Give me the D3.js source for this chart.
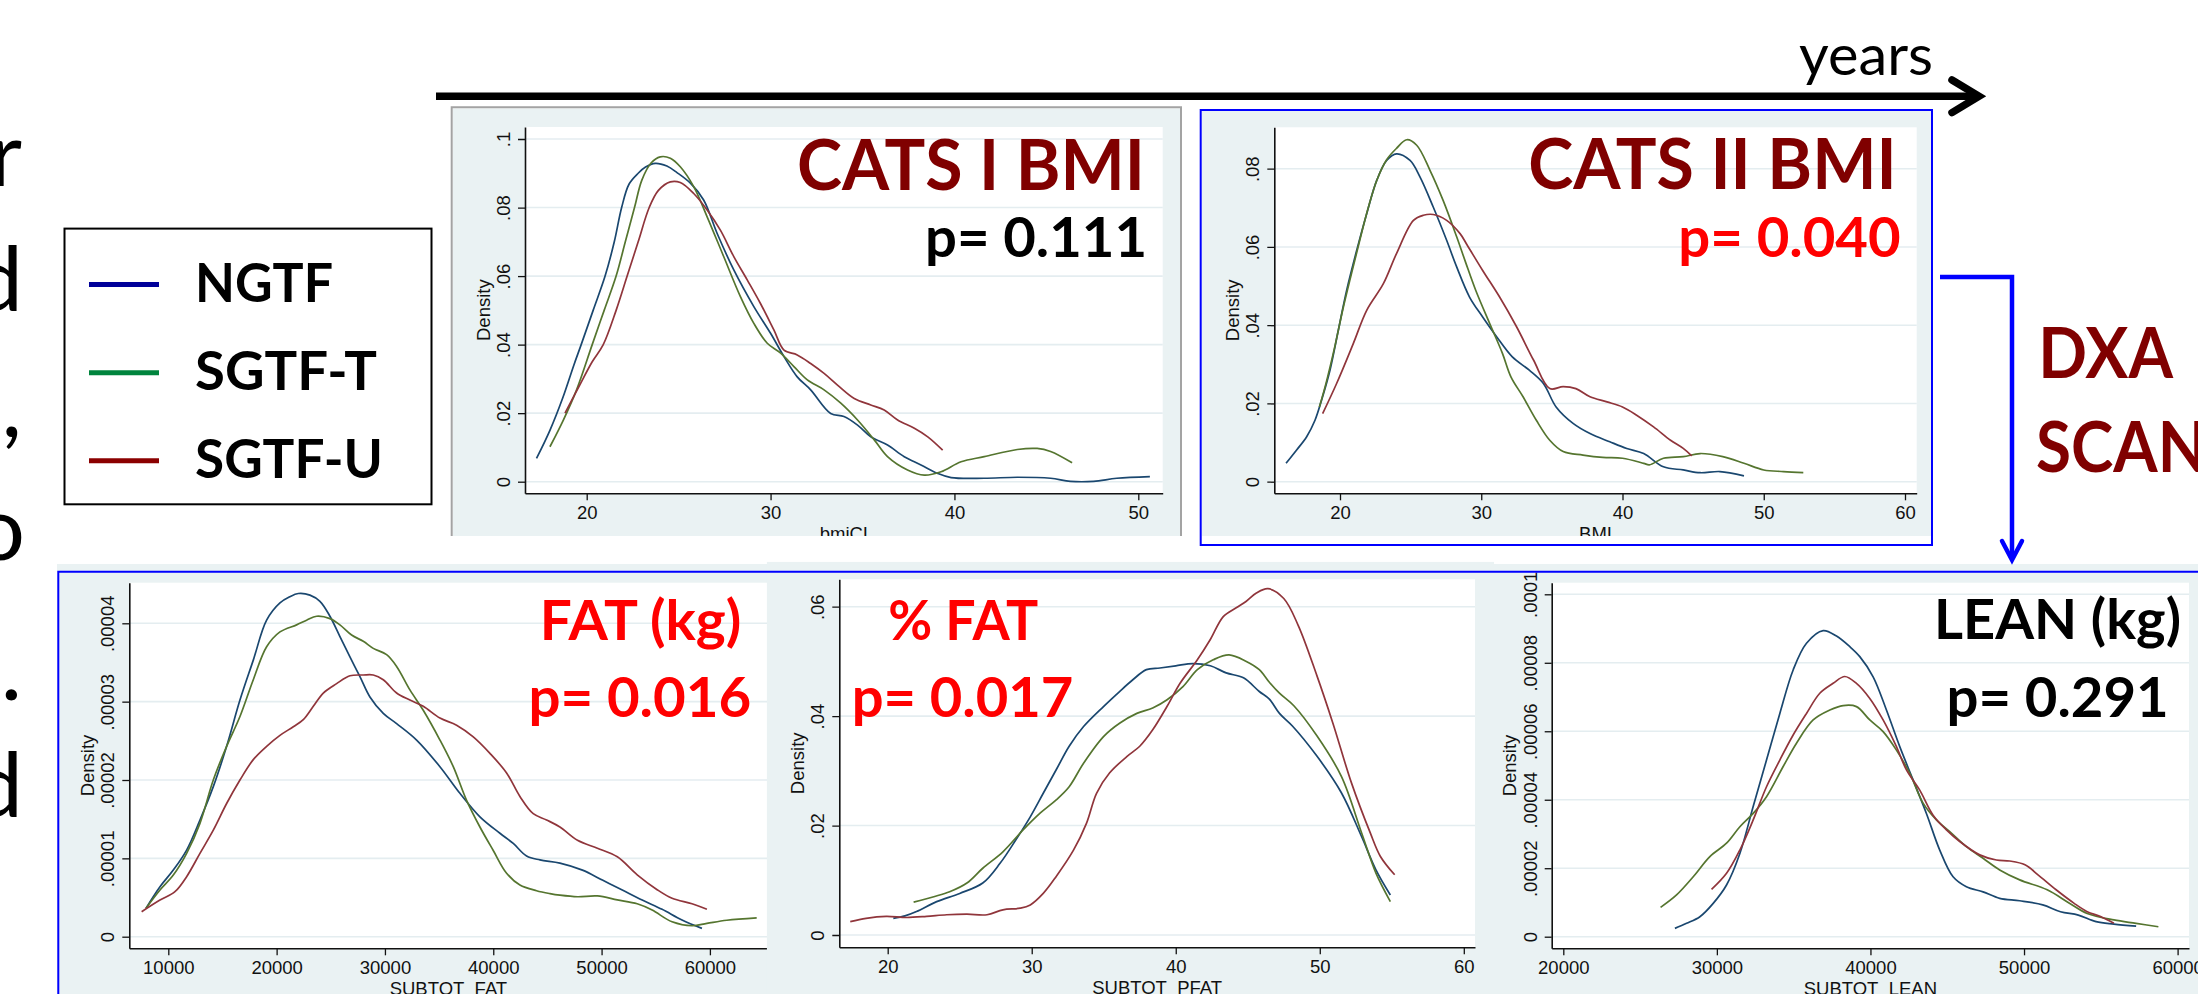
<!DOCTYPE html>
<html>
<head>
<meta charset="utf-8">
<script src="https://cdn.jsdelivr.net/npm/d3@7"></script>
<style>
body { margin: 0; background: #fff; overflow: hidden; }
svg { display: block; }
</style>
</head>
<body>
<script>
// groups and colours
var groups = ["NGTF", "SGTF-T", "SGTF-U"];
var curveColors = ["#1a476f", "#55752f", "#90353b"];
var legendColors = ["#000099", "#00843d", "#8b0000"];

// CATS I BMI density curves  [bmi, density]
var bmi1Ngtf = [[17.27,.0068],[18.0,.0150],[18.7,.0245],[19.3,.0340],[19.7,.0400],[20.35,.0500],[21.0,.0600],[21.5,.0700],[21.9,.0800],[22.3,.0868],[22.8,.0900],[23.2,.0918],[23.73,.0929],[24.36,.0921],[24.91,.0902],[25.64,.0871],[26.36,.0822],[27.09,.0725],[28.0,.0618],[29.09,.0511],[30.0,.0433],[30.73,.0365],[31.45,.0306],[32.18,.0268],[33.27,.0199],[33.99,.0190],[34.73,.0165],[35.45,.0131],[36.36,.0107],[37.27,.0073],[38.18,.0049],[39.09,.0024],[39.82,.0012],[41.62,.0010],[43.42,.0013],[45.23,.0010],[46.31,.0001],[47.57,.0001],[48.83,.0010],[50.63,.0015]];
var bmi1Sgtft = [[18.0,.0102],[18.73,.0180],[19.45,.0268],[20.3,.0400],[20.95,.0500],[21.6,.0600],[22.1,.0700],[22.6,.0800],[23.0,.0880],[23.5,.0930],[24.0,.0948],[24.55,.0944],[25.09,.0919],[25.82,.0861],[26.55,.0773],[27.45,.0657],[28.36,.0540],[29.09,.0462],[29.82,.0404],[30.55,.0375],[31.27,.0336],[32.0,.0297],[32.91,.0268],[33.82,.0229],[34.73,.0180],[35.64,.0122],[36.36,.0073],[37.45,.0034],[38.36,.0019],[39.27,.0029],[40.36,.0058],[41.62,.0073],[43.42,.0094],[44.5,.0097],[45.23,.0088],[46.4,.0055]];
var bmi1Sgtfu = [[18.82,.0200],[19.6,.0280],[20.3,.0350],[20.9,.0400],[21.6,.0500],[22.2,.0600],[22.8,.0700],[23.4,.0800],[23.9,.0850],[24.55,.0875],[25.09,.0873],[25.82,.0841],[26.55,.0793],[27.27,.0734],[28.0,.0657],[28.73,.0589],[29.45,.0520],[30.18,.0443],[30.73,.0384],[31.45,.0370],[32.18,.0345],[32.91,.0316],[33.64,.0282],[34.55,.0243],[35.45,.0224],[36.18,.0209],[36.91,.0180],[37.82,.0156],[38.55,.0131],[39.36,.0092]];

// CATS II BMI
var bmi2Ngtf = [[16.18,.0047],[16.93,.0081],[17.64,.0115],[18.23,.0157],[18.7,.0209],[19.29,.0285],[19.88,.0387],[20.47,.0489],[21.18,.0591],[21.89,.0685],[22.6,.0770],[23.3,.0821],[24.0,.0838],[24.96,.0821],[25.66,.0779],[26.6,.0702],[27.55,.0617],[28.26,.0549],[29.17,.0472],[30.1,.0421],[31.1,.0370],[32.2,.0319],[33.4,.0285],[34.4,.0251],[35.3,.0191],[36.5,.0149],[37.7,.0123],[39.1,.0102],[40.3,.0085],[41.5,.0072],[42.9,.0038],[44.3,.0030],[45.5,.0023],[46.9,.0026],[48.6,.0015]];
var bmi2Sgtft = [[18.54,.0191],[19.0,.0250],[19.6,.0340],[20.2,.0440],[20.8,.0530],[21.4,.0617],[22.0,.0700],[22.6,.0770],[23.3,.0823],[24.0,.0852],[24.72,.0874],[25.43,.0860],[26.37,.0796],[27.3,.0719],[28.26,.0626],[28.9,.0560],[29.6,.0490],[30.6,.0404],[31.5,.0328],[32.1,.0268],[32.96,.0217],[33.9,.0157],[34.85,.0106],[35.8,.0077],[37.2,.0068],[38.6,.0062],[40.0,.0060],[41.5,.0047],[41.9,.0043],[42.9,.0060],[44.3,.0064],[45.5,.0072],[47.1,.0064],[48.6,.0047],[50.0,.0030],[51.4,.0026],[52.8,.0023]];
var bmi2Sgtfu = [[18.77,.0174],[19.76,.0251],[20.94,.0353],[21.89,.0438],[23.07,.0506],[24.0,.0583],[25.2,.0668],[25.9,.0681],[26.6,.0683],[27.55,.0668],[28.5,.0634],[29.0,.0605],[30.1,.0540],[31.3,.0472],[32.5,.0396],[33.7,.0311],[34.85,.0238],[35.8,.0243],[36.7,.0238],[37.7,.0217],[38.9,.0204],[40.0,.0191],[41.0,.0170],[42.2,.0140],[43.4,.0106],[44.3,.0085],[44.9,.0066]];

// DXA fat mass (g)
var fatNgtf = [[7938,3.62e-6],[9231,6.38e-6],[10462,8.51e-6],[11692,1.106e-5],[12923,1.489e-5],[14154,1.915e-5],[15385,2.43e-5],[16615,3.02e-5],[17846,3.53e-5],[19077,4.04e-5],[20308,4.26e-5],[21231,4.34e-5],[22000,4.38e-5],[23077,4.36e-5],[24000,4.28e-5],[24923,4.09e-5],[25846,3.83e-5],[26769,3.57e-5],[27692,3.32e-5],[28615,3.06e-5],[29846,2.85e-5],[31077,2.72e-5],[32923,2.51e-5],[35077,2.17e-5],[36923,1.83e-5],[38769,1.53e-5],[40615,1.32e-5],[41846,1.19e-5],[43077,1.03e-5],[44308,9.8e-6],[46154,9.4e-6],[48235,8.5e-6],[50074,7.23e-6],[51912,5.96e-6],[53750,4.68e-6],[55588,3.49e-6],[57426,2.13e-6],[59265,1.06e-6]];
var fatSgtft = [[7938,3.62e-6],[9231,5.96e-6],[10462,7.87e-6],[11692,1.064e-5],[12923,1.447e-5],[14154,2.0e-5],[15385,2.43e-5],[16615,2.81e-5],[17846,3.28e-5],[19077,3.70e-5],[20308,3.89e-5],[21846,3.98e-5],[22769,4.04e-5],[23692,4.09e-5],[24923,4.06e-5],[25846,3.98e-5],[26923,3.85e-5],[28000,3.77e-5],[28923,3.68e-5],[30154,3.60e-5],[31077,3.45e-5],[32308,3.15e-5],[33538,2.89e-5],[35077,2.51e-5],[36308,2.17e-5],[37538,1.74e-5],[38769,1.40e-5],[40000,1.10e-5],[41231,8.1e-6],[42462,6.6e-6],[44000,5.87e-6],[45231,5.5e-6],[46154,5.3e-6],[47775,5.1e-6],[49614,5.2e-6],[51452,4.7e-6],[53290,4.2e-6],[54669,3.4e-6],[56507,1.9e-6],[58346,1.4e-6],[59724,1.7e-6],[61562,2.1e-6],[64320,2.4e-6]];
var fatSgtfu = [[7538,3.19e-6],[9231,4.68e-6],[10615,5.74e-6],[11692,7.66e-6],[12923,1.064e-5],[14154,1.36e-5],[15385,1.70e-5],[16615,2.0e-5],[17846,2.26e-5],[19077,2.43e-5],[20308,2.57e-5],[21538,2.68e-5],[22462,2.77e-5],[23385,2.94e-5],[24308,3.11e-5],[25538,3.23e-5],[26769,3.33e-5],[28000,3.34e-5],[28923,3.34e-5],[29846,3.28e-5],[31077,3.11e-5],[32308,3.02e-5],[33538,2.94e-5],[35077,2.79e-5],[36615,2.70e-5],[38154,2.55e-5],[39692,2.34e-5],[41231,2.09e-5],[42462,1.79e-5],[43692,1.57e-5],[44923,1.49e-5],[46154,1.40e-5],[47775,1.23e-5],[49614,1.13e-5],[51452,1.02e-5],[53290,7.9e-6],[55129,6.0e-6],[56507,4.9e-6],[58346,4.2e-6],[59724,3.5e-6]];

// DXA percent fat
var pfatNgtf = [[20.39,.00305],[21.2,.0035],[22.0,.0043],[23.4,.0061],[25.0,.0076],[26.6,.0095],[27.8,.0131],[28.9,.0174],[29.9,.0216],[30.8,.0259],[31.7,.0302],[32.6,.0345],[33.6,.0381],[35.0,.0418],[36.1,.0445],[37.0,.0466],[37.96,.0485],[38.9,.0488],[40.0,.0492],[41.2,.0496],[42.4,.0492],[43.5,.0479],[44.7,.0470],[45.8,.0445],[46.5,.0431],[47.2,.0405],[48.1,.0382],[49.8,.0327],[51.5,.0260],[52.9,.0180],[53.9,.0119],[54.9,.0073]];
var pfatSgtft = [[21.8,.0060],[23.2,.0070],[24.3,.0079],[25.5,.0095],[26.6,.0122],[28.0,.0152],[29.4,.0192],[30.6,.0223],[31.7,.0247],[32.6,.0271],[33.6,.0314],[35.0,.0363],[36.1,.0387],[37.3,.0405],[38.4,.0415],[39.4,.0430],[40.5,.0454],[41.5,.0485],[42.6,.0503],[43.7,.0512],[44.9,.0500],[45.8,.0485],[46.5,.0462],[47.2,.0442],[48.2,.0419],[49.8,.0364],[51.5,.0290],[52.9,.0187],[53.9,.0113],[54.9,.0061]];
var pfatSgtfu = [[17.4,.00244],[18.5,.00305],[19.9,.0034],[21.3,.0032],[22.7,.0034],[24.1,.0037],[25.5,.0038],[26.9,.0037],[28.0,.0046],[29.2,.0049],[29.9,.0055],[30.8,.0076],[31.7,.0107],[32.9,.0155],[33.8,.0204],[34.5,.0259],[35.4,.0296],[36.6,.0326],[37.5,.0345],[38.4,.0375],[39.4,.0418],[40.3,.0460],[41.5,.0503],[42.4,.0540],[43.3,.0582],[44.2,.0598],[44.9,.0610],[45.6,.0625],[46.4,.0633],[47.5,.0615],[48.5,.0566],[49.8,.0474],[50.9,.0388],[52.2,.0278],[53.5,.0187],[54.2,.0144],[55.2,.0110]];

// DXA lean mass (g)
var leanNgtf = [[27267,2.43e-6],[28026,3.9e-6],[28894,5.84e-6],[29761,9.74e-6],[30629,1.51e-5],[31497,2.43e-5],[32364,3.8e-5],[33232,5.16e-5],[34100,6.52e-5],[34967,7.79e-5],[35835,8.57e-5],[36920,8.94e-5],[37787,8.78e-5],[38655,8.47e-5],[39306,8.18e-5],[40174,7.59e-5],[41041,6.62e-5],[41909,5.55e-5],[42777,4.58e-5],[43644,3.6e-5],[44512,2.53e-5],[45380,1.75e-5],[46247,1.46e-5],[47332,1.31e-5],[48416,1.12e-5],[49718,1.05e-5],[51218,9.3e-6],[52376,7.3e-6],[53535,6.3e-6],[54694,4.4e-6],[55853,3.7e-6],[57300,3.1e-6]];
var leanSgtft = [[26334,8.57e-6],[27375,1.22e-5],[28460,1.75e-5],[29544,2.34e-5],[30629,2.73e-5],[31497,3.21e-5],[32364,3.6e-5],[33232,4.09e-5],[34317,4.97e-5],[35184,5.65e-5],[36269,6.33e-5],[37354,6.62e-5],[38221,6.75e-5],[39089,6.72e-5],[39957,6.33e-5],[40824,5.99e-5],[41692,5.45e-5],[42560,4.77e-5],[43427,3.9e-5],[44295,3.41e-5],[45163,3.07e-5],[46247,2.63e-5],[47332,2.29e-5],[48416,1.95e-5],[49718,1.66e-5],[51508,1.37e-5],[52956,9.8e-6],[54114,6.8e-6],[55853,4.9e-6],[57300,3.9e-6],[58748,2.9e-6]];
var leanSgtfu = [[29653,1.38e-5],[30629,1.85e-5],[31497,2.53e-5],[32364,3.41e-5],[33232,4.38e-5],[34100,5.16e-5],[34967,5.89e-5],[35835,6.52e-5],[36703,7.11e-5],[37570,7.4e-5],[38330,7.6e-5],[39089,7.4e-5],[39957,6.96e-5],[40824,6.33e-5],[41692,5.55e-5],[42343,4.87e-5],[43210,4.28e-5],[44078,3.55e-5],[44946,3.12e-5],[45813,2.78e-5],[47115,2.39e-5],[48200,2.24e-5],[49067,2.21e-5],[50061,2.1e-5],[50930,1.8e-5],[52090,1.37e-5],[53245,9.8e-6],[54114,7.3e-6],[54983,5.9e-6],[55853,3.9e-6]];

// ticks
var bmi1XTicks = [20, 30, 40, 50];
var bmi2XTicks = [20, 30, 40, 50, 60];
var fatXTicks = [10000, 20000, 30000, 40000, 50000, 60000];
var pfatXTicks = [20, 30, 40, 50, 60];
var leanXTicks = [20000, 30000, 40000, 50000, 60000];
var bmi1YTicks = [0, .02, .04, .06, .08, .1];
var bmi1YLabels = ["0", ".02", ".04", ".06", ".08", ".1"];
var bmi2YTicks = [0, .02, .04, .06, .08];
var bmi2YLabels = ["0", ".02", ".04", ".06", ".08"];
var fatYTicks = [0, .00001, .00002, .00003, .00004];
var fatYLabels = ["0", ".00001", ".00002", ".00003", ".00004"];
var pfatYTicks = [0, .02, .04, .06];
var pfatYLabels = ["0", ".02", ".04", ".06"];
var leanYTicks = [0, .00002, .00004, .00006, .00008, .0001];
var leanYLabels = ["0", ".00002", ".00004", ".00006", ".00008", ".0001"];

var W = 2198, H = 994;
var svg = d3.select("body").append("svg").attr("width", W).attr("height", H);
var defs = svg.append("defs");
var tickFont = "'Liberation Sans', Arial, sans-serif";
var bigFont = "Lato, 'Open Sans', sans-serif";

// linear scale pinned by two tick positions, stretched to the plot edges
function edgeScale(dom, pix, r0, r1) {
  var s = d3.scaleLinear().domain(dom).range(pix);
  return d3.scaleLinear().domain([s.invert(r0), s.invert(r1)]).range([r0, r1]);
}

var panels = [
  { bg: [452.7, 108.3, 1180, 536], plot: [525, 127, 1162.7, 493.3],
    xDom: [20, 50], xPix: [586.7, 1138.3], yDom: [0, .1], yPix: [481.7, 139],
    xTicks: bmi1XTicks, yTicks: bmi1YTicks, yLabels: bmi1YLabels, xTitle: "bmiCI",
    series: [bmi1Ngtf, bmi1Sgtft, bmi1Sgtfu] },
  { bg: [1201.7, 111, 1931, 536], plot: [1274.3, 127.3, 1916.7, 493.3],
    xDom: [20, 60], xPix: [1340, 1905], yDom: [0, .08], yPix: [481.7, 168.7],
    xTicks: bmi2XTicks, yTicks: bmi2YTicks, yLabels: bmi2YLabels, xTitle: "BMI",
    series: [bmi2Ngtf, bmi2Sgtft, bmi2Sgtfu] },
  { bg: [57, 564, 790, 994], plot: [129.3, 582.7, 767.5, 948.3],
    xDom: [10000, 60000], xPix: [168.3, 709.9], yDom: [0, .00004], yPix: [936.7, 623.3],
    xTicks: fatXTicks, yTicks: fatYTicks, yLabels: fatYLabels, xTitle: "SUBTOT_FAT",
    series: [fatNgtf, fatSgtft, fatSgtfu] },
  { bg: [1480, 564, 2198, 994], plot: [1551.7, 582.7, 2189, 948.3],
    xDom: [20000, 60000], xPix: [1563.3, 2177.6], yDom: [0, .0001], yPix: [936.7, 594.3],
    xTicks: leanXTicks, yTicks: leanYTicks, yLabels: leanYLabels, xTitle: "SUBTOT_LEAN",
    series: [leanNgtf, leanSgtft, leanSgtfu] },
  { bg: [766.7, 561.7, 1494, 994], plot: [839.3, 579.3, 1475, 947.3],
    xDom: [20, 60], xPix: [887.7, 1463.8], yDom: [0, .06], yPix: [935, 606.7],
    xTicks: pfatXTicks, yTicks: pfatYTicks, yLabels: pfatYLabels, xTitle: "SUBTOT_PFAT",
    series: [pfatNgtf, pfatSgtft, pfatSgtfu] }
];

panels.forEach(function (p, i) {
  var clipId = "clip" + i;
  defs.append("clipPath").attr("id", clipId).append("rect")
    .attr("x", p.bg[0]).attr("y", p.bg[1])
    .attr("width", p.bg[2] - p.bg[0]).attr("height", p.bg[3] - p.bg[1]);
  var g = svg.append("g").attr("clip-path", "url(#" + clipId + ")");

  g.append("rect").attr("x", p.bg[0]).attr("y", p.bg[1])
    .attr("width", p.bg[2] - p.bg[0]).attr("height", p.bg[3] - p.bg[1])
    .attr("fill", "#eaf2f3");
  g.append("rect").attr("x", p.plot[0]).attr("y", p.plot[1])
    .attr("width", p.plot[2] - p.plot[0]).attr("height", p.plot[3] - p.plot[1])
    .attr("fill", "#fff");

  var x = edgeScale(p.xDom, p.xPix, p.plot[0], p.plot[2]);
  var y = edgeScale(p.yDom, p.yPix, p.plot[3], p.plot[1]);

  // grid
  g.append("g").selectAll("line").data(p.yTicks).enter().append("line")
    .attr("x1", p.plot[0]).attr("x2", p.plot[2])
    .attr("y1", function (d) { return y(d); }).attr("y2", function (d) { return y(d); })
    .attr("stroke", "#e4edf0").attr("stroke-width", 1.6);

  var line = d3.line()
    .x(function (d) { return x(d[0]); })
    .y(function (d) { return y(d[1]); })
    .curve(d3.curveCatmullRom.alpha(0.5));

  g.append("g").selectAll("path").data(p.series).enter().append("path")
    .attr("d", line)
    .attr("fill", "none")
    .attr("stroke", function (d, k) { return curveColors[k]; })
    .attr("stroke-width", 1.7);

  var xAxis = g.append("g").attr("transform", "translate(0," + p.plot[3] + ")")
    .call(d3.axisBottom(x).tickValues(p.xTicks).tickSize(7).tickSizeOuter(0).tickFormat(d3.format("d")));
  var yAxis = g.append("g").attr("transform", "translate(" + p.plot[0] + ",0)")
    .call(d3.axisLeft(y).tickValues(p.yTicks).tickSize(7).tickSizeOuter(0)
      .tickFormat(function (d, k) { return p.yLabels[k]; }));

  [xAxis, yAxis].forEach(function (a) {
    a.attr("color", "#111").attr("font-family", tickFont).attr("font-size", 18.5);
    a.select(".domain").attr("stroke-width", 1.6);
    a.selectAll(".tick line").attr("stroke-width", 1.3);
  });
  xAxis.selectAll("text").attr("y", 25.5).attr("dy", null);
  yAxis.selectAll("text").attr("x", 0).attr("dy", null)
    .attr("text-anchor", "middle").attr("transform", "translate(-15,0) rotate(-90)");

  g.append("text")
    .attr("transform", "translate(" + (p.plot[0] - 35.5) + "," + ((p.plot[1] + p.plot[3]) / 2) + ") rotate(-90)")
    .attr("text-anchor", "middle")
    .attr("font-family", tickFont).attr("font-size", 18.5).attr("fill", "#111")
    .text("Density");
  g.append("text")
    .attr("x", (p.plot[0] + p.plot[2]) / 2).attr("y", p.plot[3] + 46.5)
    .attr("text-anchor", "middle")
    .attr("font-family", tickFont).attr("font-size", 18.5).attr("fill", "#111")
    .text(p.xTitle);
});

// frames
svg.append("path").attr("d", "M451.7,536V107.3H1181V536")
  .attr("fill", "none").attr("stroke", "#a3a3a3").attr("stroke-width", 2);
svg.append("rect").attr("x", 1200.7).attr("y", 110).attr("width", 731.3).attr("height", 435)
  .attr("fill", "none").attr("stroke", "#0000ff").attr("stroke-width", 2);
svg.append("path").attr("d", "M58.3,995V571.7H2200")
  .attr("fill", "none").attr("stroke", "#0000ff").attr("stroke-width", 2);

// timeline arrow
svg.append("path").attr("d", "M436,96.3H1976")
  .attr("stroke", "#000").attr("stroke-width", 7.5).attr("fill", "none");
svg.append("path").attr("d", "M1952,80L1979,96.3L1952,112.6")
  .attr("stroke", "#000").attr("stroke-width", 7.5).attr("fill", "none")
  .attr("stroke-linecap", "round").attr("stroke-linejoin", "miter");
svg.append("text").attr("x", 1799).attr("y", 75)
  .attr("font-family", bigFont).attr("font-size", 57)
  .attr("textLength", 134).attr("lengthAdjust", "spacingAndGlyphs")
  .text("years");

// DXA bracket arrow
svg.append("path").attr("d", "M1940,277H2012V557")
  .attr("stroke", "#0000ff").attr("stroke-width", 4.5).attr("fill", "none");
svg.append("path").attr("d", "M2002,541L2012,560L2022,541")
  .attr("stroke", "#0000ff").attr("stroke-width", 4.5).attr("fill", "none")
  .attr("stroke-linecap", "round");

// slide annotations
var notes = [
  { t: "CATS I BMI", x: 797, y: 190, s: 70, w: 348, c: "#800000" },
  { t: "p= 0.111", x: 925, y: 256.7, s: 56, w: 222, c: "#000" },
  { t: "CATS II BMI", x: 1528.3, y: 189, s: 70, w: 368.4, c: "#800000" },
  { t: "p= 0.040", x: 1678.3, y: 256.7, s: 56, w: 222.4, c: "#ff0000" },
  { t: "DXA", x: 2038.3, y: 378.3, s: 70, w: 134.7, c: "#800000" },
  { t: "SCAN", x: 2036, y: 471.7, s: 70, w: 171, c: "#800000" },
  { t: "FAT (kg)", x: 539.8, y: 640, s: 56, w: 201.5, c: "#ff0000" },
  { t: "p= 0.016", x: 528.4, y: 716.7, s: 56, w: 222.8, c: "#ff0000" },
  { t: "% FAT", x: 888.3, y: 640, s: 56, w: 150, c: "#ff0000" },
  { t: "p= 0.017", x: 851.7, y: 716.7, s: 56, w: 221.6, c: "#ff0000" },
  { t: "LEAN (kg)", x: 1934, y: 639.3, s: 56, w: 247, c: "#000" },
  { t: "p= 0.291", x: 1946.6, y: 716.7, s: 56, w: 222.1, c: "#000" }
];
svg.append("g").selectAll("text").data(notes).enter().append("text")
  .attr("x", function (d) { return d.x; }).attr("y", function (d) { return d.y; })
  .attr("font-family", bigFont).attr("font-weight", 700)
  .attr("font-size", function (d) { return d.s; })
  .attr("textLength", function (d) { return d.w; }).attr("lengthAdjust", "spacingAndGlyphs")
  .attr("fill", function (d) { return d.c; })
  .text(function (d) { return d.t; });

// legend
var legend = svg.append("g");
legend.append("rect").attr("x", 64.5).attr("y", 228.6).attr("width", 367).attr("height", 275.7)
  .attr("fill", "#fff").attr("stroke", "#000").attr("stroke-width", 2);
var legendY = d3.scalePoint().domain(groups).range([284.6, 460.7]);
var legendWidths = [138, 182, 188];
groups.forEach(function (name, k) {
  legend.append("line").attr("x1", 89).attr("x2", 159)
    .attr("y1", legendY(name)).attr("y2", legendY(name))
    .attr("stroke", legendColors[k]).attr("stroke-width", 5);
  legend.append("text").attr("x", 195).attr("y", legendY(name) + 17)
    .attr("font-family", bigFont).attr("font-weight", 700).attr("font-size", 54)
    .attr("textLength", legendWidths[k]).attr("lengthAdjust", "spacingAndGlyphs")
    .text(name);
});

// clipped slide text at the left edge
var edgeChars = [
  { t: "r", x: 22, y: 186 }, { t: "d", x: 23, y: 311 }, { t: ",", x: 22, y: 437 },
  { t: "o", x: 25, y: 560 }, { t: ".", x: 22, y: 700 }, { t: "d", x: 23, y: 817 }
];
svg.append("g").selectAll("text").data(edgeChars).enter().append("text")
  .attr("x", function (d) { return d.x; }).attr("y", function (d) { return d.y; })
  .attr("text-anchor", "end")
  .attr("font-family", bigFont).attr("font-size", 90).attr("fill", "#000")
  .text(function (d) { return d.t; });
</script>
